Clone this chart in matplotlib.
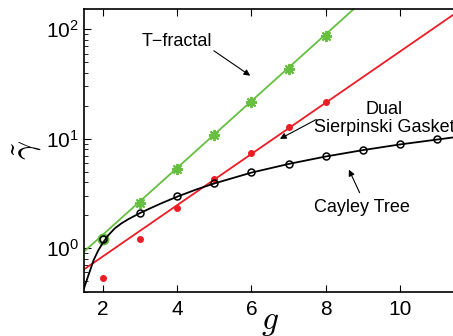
import numpy as np
import matplotlib
matplotlib.use("Agg")
import matplotlib.pyplot as plt

plt.rcParams["font.family"] = ["Liberation Sans", "DejaVu Sans"]
plt.rcParams["mathtext.fontset"] = "cm"

# --- data ---
g_tfrac = [2, 3, 4, 5, 6, 7, 8]
y_tfrac = [1.21, 2.58, 5.26, 10.8, 21.5, 43, 86]
g_tfrac_line = [1.5, 9.0]
y_tfrac_line = [0.93, 182]

g_dsg = [2, 3, 4, 5, 6, 7, 8]
y_dsg = [0.53, 1.21, 2.32, 4.27, 7.4, 12.7, 21.5]
g_dsg_line = [1.5, 11.5]
y_dsg_line = [0.64, 141]

g_cayley = [2, 3, 4, 5, 6, 7, 8, 9, 10, 11]
y_cayley = [1.21, 2.09, 2.98, 3.92, 4.93, 5.86, 6.9, 7.85, 8.9, 9.9]
g_cayley_curve = [1.5, 1.59, 1.68, 1.76, 1.88, 2.0, 2.15, 2.33, 2.5, 2.69, 3.0, 3.3, 3.59,
                  4.0, 4.5, 5.0, 6.0, 7.0, 8.0, 9.0, 10.0, 11.5]
y_cayley_curve = [0.43, 0.53, 0.65, 0.78, 0.95, 1.11, 1.31, 1.52, 1.68, 1.84, 2.09, 2.33, 2.58,
                  2.95, 3.42, 3.9, 4.9, 5.88, 6.88, 7.87, 8.87, 10.35]

green = "#66bf3f"
red = "#ee1c24"

fig = plt.figure(figsize=(4.53, 3.36), dpi=100)
ax = fig.add_axes([84 / 453, 44 / 336, 372 / 453, 283 / 336])

ax.plot(g_tfrac_line, y_tfrac_line, color=green, lw=1.3)
ax.plot(g_tfrac[1:], y_tfrac[1:], ls="none", marker=(8, 2, 0), ms=8, mew=1.4, color=green)
ax.plot(g_tfrac[:1], y_tfrac[:1], ls="none", marker="o", ms=6, mew=2.6, mfc="none", mec=green)

ax.plot(g_dsg_line, y_dsg_line, color=red, lw=1.3)
ax.plot(g_dsg, y_dsg, ls="none", marker="o", ms=4, color=red)

ax.plot(g_cayley_curve, y_cayley_curve, color="black", lw=1.3)
ax.plot(g_cayley, y_cayley, ls="none", marker="o", ms=5, mew=1.1, mfc="none", mec="black")

ax.set_yscale("log")
ax.set_xlim(1.5, 11.5)
ax.set_ylim(0.398, 153)
ax.set_xticks([2, 4, 6, 8, 10])
ax.tick_params(which="both", direction="in", top=True, right=False, labelsize=15)
ax.tick_params(which="major", length=5)
ax.tick_params(which="minor", length=3)
ax.tick_params(axis="x", pad=6)
for s in ax.spines.values():
    s.set_linewidth(1.2)

# axis labels placed by hand, like the original
fig.text(270 / 453, 1 - 322 / 336, r"$g$", fontsize=24, ha="center", va="center")
fig.text(27 / 453, 1 - 150 / 336, r"$\tilde{\gamma}$", fontsize=24, ha="center", va="center",
         rotation=90)

arrow = dict(arrowstyle="-|>", color="black", lw=0.8, mutation_scale=9)
ax.text(3.99, 77.6, "T\u2212fractal", fontsize=13, ha="center", va="center")
ax.annotate("", xy=(6.03, 36.4), xytext=(4.93, 65.7), arrowprops=arrow)
ax.text(9.57, 15.4, "Dual\nSierpinski Gasket", fontsize=13, ha="center", va="center",
        linespacing=1.05)
ax.annotate("", xy=(6.70, 9.7), xytext=(7.81, 15.4), arrowprops=arrow)
ax.text(8.96, 2.37, "Cayley Tree", fontsize=13, ha="center", va="center")
ax.annotate("", xy=(8.59, 5.5), xytext=(8.94, 3.05), arrowprops=arrow)

fig.savefig("out.png", dpi=100)
